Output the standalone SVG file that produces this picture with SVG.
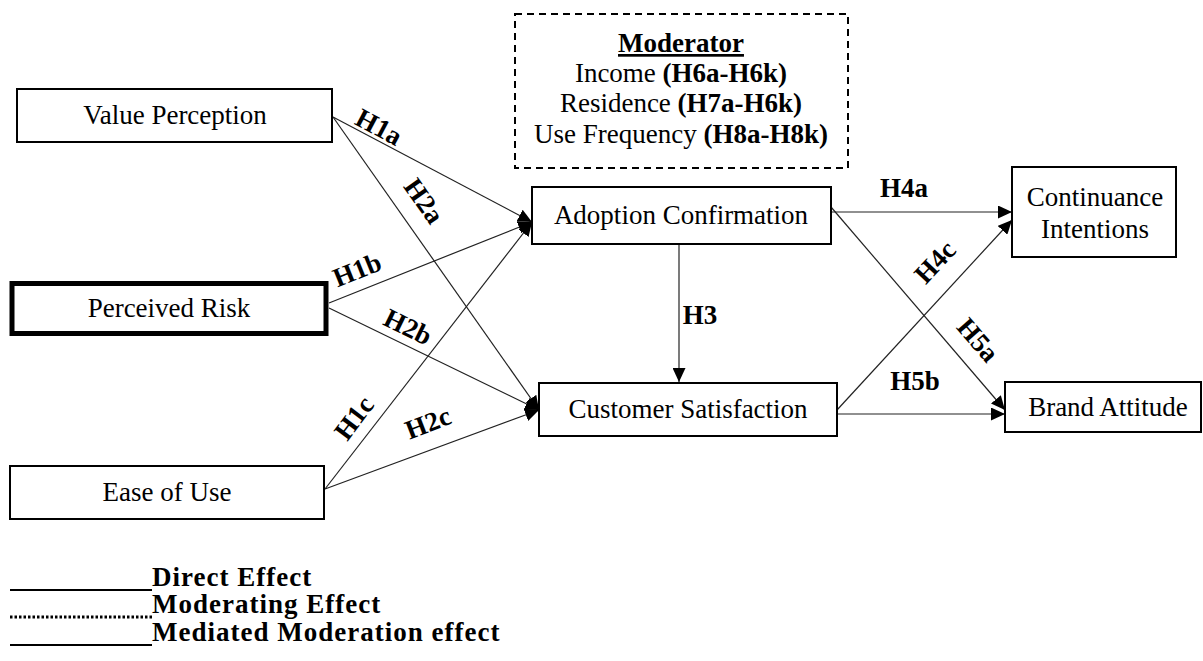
<svg xmlns="http://www.w3.org/2000/svg" width="1203" height="661" viewBox="0 0 1203 661">
  <style>
    .box { fill: #fff; stroke: #000; stroke-width: 2; }
    .thick { fill: #fff; stroke: #000; stroke-width: 5; }
    .mod { fill: none; stroke: #000; stroke-width: 2; stroke-dasharray: 7 5; }
    .lbl { font-family: "Liberation Serif", "Times New Roman", serif; font-size: 27px; fill: #000; text-anchor: middle; }
    .hyp { font-family: "Liberation Serif", "Times New Roman", serif; font-size: 27px; font-weight: bold; fill: #000; text-anchor: middle; }
    .edge { stroke: #222; stroke-width: 1.2; fill: none; marker-end: url(#tip); }
    .leg { font-family: "Liberation Serif", "Times New Roman", serif; font-size: 27px; font-weight: bold; letter-spacing: 1px; fill: #000; }
  </style>
  <defs>
    <marker id="tip" markerUnits="userSpaceOnUse" markerWidth="15" markerHeight="13" refX="14" refY="6.5" orient="auto">
      <path d="M0,0 L14,6.5 L0,13 Z" fill="#000"/>
    </marker>
  </defs>

  <rect width="1203" height="661" fill="#fff"/>

  <!-- connectors -->
  <g id="connectors">
    <line class="edge" x1="333" y1="117" x2="532" y2="222"/>
    <line class="edge" x1="333" y1="117" x2="539" y2="410"/>
    <line class="edge" x1="329" y1="303" x2="532" y2="222"/>
    <line class="edge" x1="329" y1="308" x2="539" y2="410"/>
    <line class="edge" x1="325" y1="489" x2="532" y2="222"/>
    <line class="edge" x1="325" y1="489" x2="539" y2="410"/>
    <line class="edge" x1="679" y1="244" x2="679" y2="382"/>
    <line class="edge" x1="831" y1="212" x2="1012" y2="212"/>
    <line class="edge" x1="831" y1="207" x2="1005" y2="410"/>
    <line class="edge" x1="837" y1="410" x2="1012" y2="220"/>
    <line class="edge" x1="837" y1="414" x2="1005" y2="414"/>
  </g>

  <!-- hypothesis labels -->
  <g id="edge-labels">
    <text class="hyp" transform="translate(379,127) rotate(28)" y="9">H1a</text>
    <text class="hyp" transform="translate(424,201) rotate(55)" y="9">H2a</text>
    <text class="hyp" transform="translate(357,270) rotate(-22)" y="9">H1b</text>
    <text class="hyp" transform="translate(408,327) rotate(26)" y="9">H2b</text>
    <text class="hyp" transform="translate(354,418) rotate(-53)" y="9">H1c</text>
    <text class="hyp" transform="translate(428,423) rotate(-21)" y="9">H2c</text>
    <text class="hyp" x="700" y="324">H3</text>
    <text class="hyp" x="904" y="197">H4a</text>
    <text class="hyp" transform="translate(935,262) rotate(-47)" y="9">H4c</text>
    <text class="hyp" transform="translate(978,340) rotate(49)" y="9">H5a</text>
    <text class="hyp" x="915" y="390">H5b</text>
  </g>

  <!-- moderator -->
  <g id="moderator">
    <rect class="mod" x="515" y="14" width="333" height="154"/>
    <text class="hyp" x="681" y="52" text-decoration="underline">Moderator</text>
    <text class="lbl" x="681" y="82">Income <tspan font-weight="bold">(H6a-H6k)</tspan></text>
    <text class="lbl" x="681" y="112">Residence <tspan font-weight="bold">(H7a-H6k)</tspan></text>
    <text class="lbl" x="681" y="143">Use Frequency <tspan font-weight="bold">(H8a-H8k)</tspan></text>
  </g>

  <!-- constructs -->
  <g id="value-perception">
    <rect class="box" x="17" y="89" width="315" height="53"/>
    <text class="lbl" x="175" y="124">Value Perception</text>
  </g>
  <g id="perceived-risk">
    <rect class="thick" x="12" y="283.5" width="314" height="50"/>
    <text class="lbl" x="169" y="317">Perceived Risk</text>
  </g>
  <g id="ease-of-use">
    <rect class="box" x="10" y="466" width="314" height="53"/>
    <text class="lbl" x="167" y="501">Ease of Use</text>
  </g>
  <g id="adoption-confirmation">
    <rect class="box" x="532" y="187" width="299" height="57"/>
    <text class="lbl" x="681" y="224">Adoption Confirmation</text>
  </g>
  <g id="customer-satisfaction">
    <rect class="box" x="539" y="383" width="298" height="53"/>
    <text class="lbl" x="688" y="418">Customer Satisfaction</text>
  </g>
  <g id="continuance-intentions">
    <rect class="box" x="1012" y="167" width="164" height="90"/>
    <text class="lbl" x="1095" y="206">Continuance</text>
    <text class="lbl" x="1095" y="238">Intentions</text>
  </g>
  <g id="brand-attitude">
    <rect class="box" x="1005" y="382" width="196" height="50"/>
    <text class="lbl" x="1108" y="416">Brand Attitude</text>
  </g>

  <!-- legend -->
  <g id="legend">
    <line x1="10" y1="590" x2="152" y2="590" stroke="#000" stroke-width="2"/>
    <text class="leg" x="152" y="586">Direct Effect</text>
    <line x1="10" y1="617" x2="152" y2="617" stroke="#000" stroke-width="3" stroke-dasharray="2.5 2"/>
    <text class="leg" x="152" y="613">Moderating Effect</text>
    <line x1="10" y1="645" x2="152" y2="645" stroke="#000" stroke-width="2"/>
    <text class="leg" x="152" y="641">Mediated Moderation effect</text>
  </g>
</svg>
